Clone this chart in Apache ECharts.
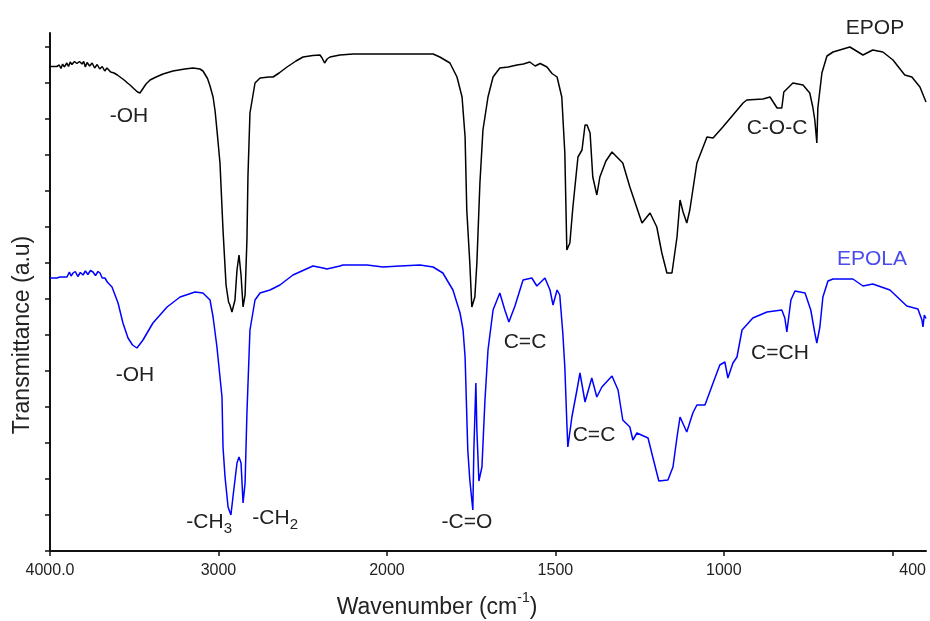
<!DOCTYPE html>
<html>
<head>
<meta charset="utf-8">
<style>
  html, body { margin: 0; padding: 0; background: #fff; }
  #chart { width: 930px; height: 621px; }
</style>
<script src="https://cdn.jsdelivr.net/npm/echarts@6/dist/echarts.min.js"></script>
</head>
<body>
<div id="chart"></div>
<script>
// FTIR spectra, wavenumber (cm-1) -> transmittance (a.u.)
const epopWave = [4000, 3960, 3945, 3935, 3925, 3915, 3900, 3890, 3880, 3870, 3855, 3840, 3825, 3810, 3800, 3790, 3780, 3765, 3750, 3735, 3720, 3705, 3690, 3675, 3662, 3640, 3620, 3600, 3584, 3560, 3540, 3525, 3500, 3480, 3466, 3450, 3430, 3406, 3370, 3329, 3270, 3200, 3151, 3110, 3092, 3065, 3050, 3032, 3020, 3009, 2991, 2973, 2955, 2940, 2932, 2920, 2902, 2890, 2878, 2866, 2854, 2842, 2831, 2825, 2813, 2783, 2753, 2700, 2676, 2640, 2593, 2540, 2498, 2440, 2397, 2385, 2370, 2355, 2338, 2279, 2200, 2100, 2000, 1961, 1900, 1863, 1843, 1813, 1792, 1777, 1768, 1763, 1754, 1748, 1739, 1733, 1724, 1715, 1700, 1685, 1665, 1640, 1614, 1595, 1576, 1560, 1545, 1525, 1510, 1495, 1481, 1472, 1466, 1457, 1448, 1433, 1421, 1412, 1406, 1397, 1389, 1377, 1368, 1350, 1332, 1300, 1279, 1249, 1243, 1219, 1199, 1184, 1169, 1154, 1139, 1130, 1121, 1110, 1101, 1080, 1050, 1032, 1003, 973, 943, 932, 884, 863, 842, 828, 822, 795, 765, 745, 736, 730, 724, 721, 709, 694, 676, 626, 587, 558, 528, 498, 463, 442, 418, 400];
const epopT = [96.9, 96.9, 97.2, 96.5, 97.4, 96.8, 97.6, 96.9, 97.8, 97.3, 97.9, 97.5, 97.9, 97.4, 97.9, 96.8, 97.7, 97.0, 97.6, 96.6, 97.3, 96.4, 96.9, 96.0, 96.6, 95.8, 95.6, 95.2, 94.8, 94.2, 93.6, 93.2, 92.4, 91.8, 91.6, 92.4, 93.4, 94.2, 94.8, 95.4, 96.0, 96.4, 96.6, 96.4, 96.0, 94.5, 93.0, 90.8, 88.0, 84.2, 77.6, 64.2, 53.2, 49.8, 49.2, 47.8, 50.2, 56.2, 59.2, 55.2, 48.8, 51.2, 62.2, 74.8, 87.6, 93.6, 94.6, 94.8, 94.8, 95.6, 96.8, 98.0, 98.8, 99.1, 99.2, 98.6, 97.6, 98.4, 98.8, 99.2, 99.4, 99.4, 99.4, 99.4, 99.4, 99.4, 98.8, 97.6, 94.8, 90.8, 82.8, 68.2, 57.6, 48.8, 50.8, 57.6, 73.6, 84.2, 90.8, 94.8, 96.6, 96.8, 97.2, 97.4, 97.8, 97.0, 97.5, 96.8, 95.5, 94.8, 90.8, 79.6, 60.2, 61.6, 68.8, 78.8, 80.2, 85.2, 85.2, 83.6, 74.8, 71.2, 74.8, 78.0, 79.8, 77.6, 72.8, 66.8, 65.6, 67.6, 64.8, 59.6, 55.6, 55.6, 62.8, 70.2, 67.8, 65.6, 68.2, 77.6, 82.8, 82.6, 84.8, 87.2, 89.6, 90.2, 90.4, 90.8, 88.6, 88.6, 91.8, 93.6, 93.2, 91.6, 88.8, 86.2, 81.6, 88.6, 95.6, 99.0, 99.8, 100.8, 99.2, 100.2, 99.8, 98.2, 95.2, 94.8, 92.8, 89.8];

const epolaWave = [4000, 3960, 3940, 3920, 3899, 3885, 3875, 3863, 3850, 3835, 3820, 3804, 3790, 3775, 3760, 3745, 3730, 3715, 3703, 3690, 3674, 3660, 3632, 3596, 3567, 3537, 3510, 3484, 3448, 3389, 3305, 3228, 3139, 3092, 3050, 3032, 3009, 2979, 2973, 2961, 2943, 2926, 2914, 2890, 2878, 2866, 2854, 2842, 2831, 2813, 2783, 2753, 2694, 2635, 2558, 2439, 2379, 2356, 2279, 2261, 2118, 2024, 1961, 1902, 1863, 1834, 1804, 1783, 1774, 1768, 1760, 1754, 1745, 1742, 1736, 1733, 1727, 1718, 1709, 1700, 1685, 1665, 1650, 1638, 1620, 1596, 1570, 1555, 1531, 1516, 1507, 1495, 1487, 1478, 1472, 1466, 1463, 1451, 1436, 1427, 1412, 1392, 1377, 1362, 1332, 1314, 1300, 1279, 1270, 1258, 1225, 1211, 1193, 1166, 1151, 1139, 1130, 1110, 1092, 1080, 1056, 1032, 1012, 997, 988, 973, 961, 946, 914, 872, 828, 819, 813, 801, 789, 759, 742, 730, 724, 715, 706, 691, 676, 617, 587, 558, 507, 457, 424, 412, 409, 405, 400];
const epolaT = [54.6, 54.6, 54.8, 54.8, 54.8, 55.8, 55.0, 55.6, 55.9, 54.9, 55.7, 55.2, 56.0, 55.3, 56.1, 55.8, 55.1, 55.9, 55.6, 54.6, 54.6, 53.8, 52.8, 49.6, 45.6, 42.6, 41.2, 40.6, 42.2, 45.6, 48.8, 50.8, 51.8, 51.6, 50.2, 46.8, 40.8, 30.8, 20.8, 14.8, 8.8, 7.2, 10.8, 17.6, 18.8, 17.6, 9.6, 13.6, 27.6, 44.2, 50.2, 51.6, 52.2, 53.2, 55.2, 57.0, 56.6, 56.4, 57.0, 57.2, 57.2, 56.8, 57.0, 57.2, 56.8, 55.6, 52.2, 47.6, 44.2, 38.8, 20.2, 14.2, 8.2, 20.2, 33.6, 24.2, 14.0, 16.8, 30.2, 40.2, 48.2, 51.6, 48.2, 45.8, 49.0, 54.2, 54.6, 53.0, 54.6, 52.2, 49.2, 52.2, 51.2, 43.6, 36.8, 25.6, 20.8, 26.8, 32.2, 35.6, 29.8, 34.6, 30.8, 32.8, 35.0, 32.2, 26.2, 24.8, 22.2, 23.6, 22.6, 18.8, 14.0, 14.2, 16.8, 22.8, 26.8, 23.8, 27.6, 29.2, 29.2, 33.6, 37.2, 37.8, 34.6, 37.6, 38.8, 44.2, 46.6, 47.8, 48.2, 46.6, 43.8, 50.2, 52.0, 51.6, 48.2, 43.6, 41.6, 44.8, 50.8, 54.0, 54.4, 54.4, 53.0, 53.4, 52.2, 49.0, 48.4, 46.2, 44.8, 47.2, 46.5];

const tickWaves = [4000, 3000, 2000, 1500, 1000, 400];
const tickLabels = ['4000.0', '3000', '2000', '1500', '1000', '400'];
const tickMarks = [4000, 3000, 2000, 1500, 1000, 500];
const yTicks = [0, 7.2, 14.4, 21.6, 28.8, 36, 43.2, 50.4, 57.6, 64.8, 72, 79.2, 86.4, 93.6, 100.8];

// the instrument halves the scale above 2000 cm-1
function toAxis(w) {
  return w >= 2000 ? (4000 - w) / 2 : 1000 + (2000 - w);
}

const labelVals = tickWaves.map(toAxis);
const font = '"Liberation Sans", Arial, sans-serif';

const notes = [
  { t: '-OH', x: 129, y: 116 },
  { t: '-OH', x: 135, y: 375 },
  { t: '-CH', x: 205, y: 522 },
  { t: '3', x: 228, y: 529, s: 15 },
  { t: '-CH', x: 271, y: 518 },
  { t: '2', x: 294, y: 525, s: 15 },
  { t: '-C=O', x: 467, y: 522 },
  { t: 'C=C', x: 525, y: 342 },
  { t: 'C=C', x: 594, y: 435 },
  { t: 'C=CH', x: 780, y: 353 },
  { t: 'C-O-C', x: 777, y: 128 },
  { t: 'EPOP', x: 875, y: 28 },
  { t: 'EPOLA', x: 872, y: 259, c: '#4a4aee' }
];

const chart = echarts.init(document.getElementById('chart'));
chart.setOption({
  animation: false,
  backgroundColor: '#fff',
  grid: { left: 50, right: 4, top: 33, bottom: 70, outerBoundsMode: 'none' },
  xAxis: {
    type: 'value',
    min: 0,
    max: 2600,
    interval: 500,
    name: '{a|Wavenumber (cm}{b|-1}{a|)}',
    nameLocation: 'middle',
    nameGap: 40,
    nameTextStyle: {
      padding: [0, 102, 0, 0],
      rich: {
        a: { fontFamily: font, fontSize: 23, color: '#222', lineHeight: 28, verticalAlign: 'bottom' },
        b: { fontFamily: font, fontSize: 14, color: '#222', lineHeight: 28, verticalAlign: 'top' }
      }
    },
    axisLine: { lineStyle: { color: '#111', width: 2 } },
    axisTick: { length: 5, lineStyle: { color: '#111', width: 1.5 }, customValues: tickMarks.map(toAxis) },
    axisLabel: {
      customValues: labelVals,
      margin: 12,
      fontFamily: font,
      fontSize: 16,
      color: '#222',
      alignMaxLabel: 'right',
      formatter: v => tickLabels[labelVals.indexOf(v)]
    },
    splitLine: { show: false }
  },
  yAxis: {
    type: 'value',
    min: 0,
    max: 103.6,
    interval: 7.2,
    name: 'Transmittance (a.u)',
    nameLocation: 'middle',
    nameGap: 16,
    nameTextStyle: { fontFamily: font, fontSize: 23, color: '#222', padding: [0, 86, 0, 0] },
    axisLine: { lineStyle: { color: '#111', width: 2 } },
    axisTick: { length: 5, lineStyle: { color: '#111', width: 1.5 }, customValues: yTicks },
    axisLabel: { show: false },
    splitLine: { show: false }
  },
  series: [
    {
      name: 'EPOP',
      type: 'line',
      showSymbol: false,
      lineStyle: { color: '#000', width: 1.5 },
      data: epopWave.map((w, i) => [toAxis(w), epopT[i]])
    },
    {
      name: 'EPOLA',
      type: 'line',
      showSymbol: false,
      lineStyle: { color: '#0000ff', width: 1.5 },
      data: epolaWave.map((w, i) => [toAxis(w), epolaT[i]])
    }
  ],
  graphic: notes.map(n => ({
    type: 'text',
    x: n.x,
    y: n.y,
    style: {
      text: n.t,
      fill: n.c || '#222',
      font: (n.s || 21) + 'px ' + font,
      align: 'center',
      verticalAlign: 'middle'
    }
  }))
});
</script>
</body>
</html>
